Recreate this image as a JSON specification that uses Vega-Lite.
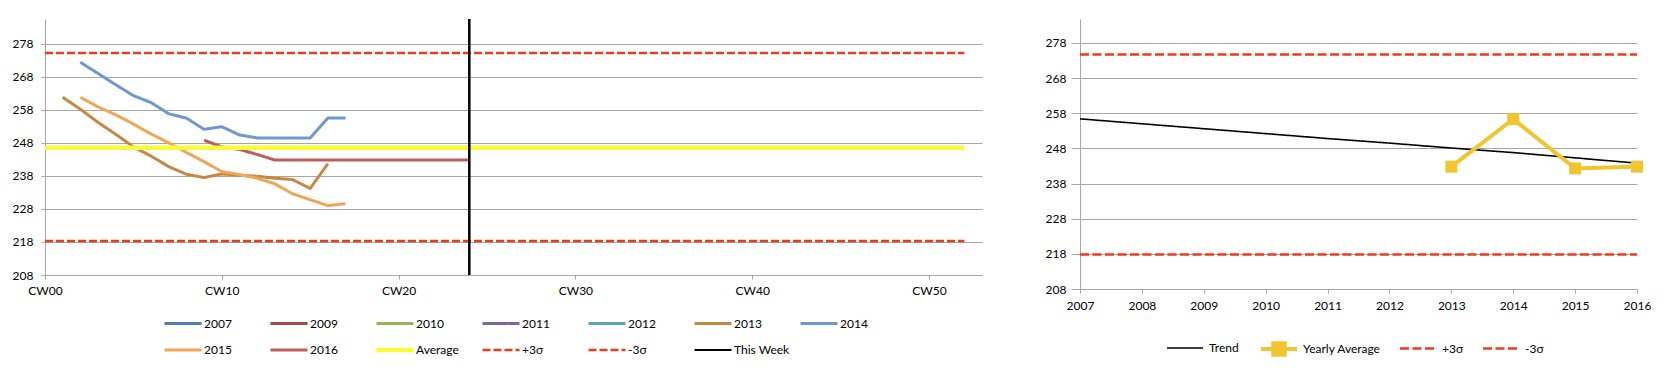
{
  "$schema": "https://vega.github.io/schema/vega-lite/v6.json",
  "background": "white",
  "padding": {"left": 12, "top": 17, "right": 0, "bottom": 0},
  "spacing": 63,
  "config": {
    "view": {"stroke": null},
    "font": "Lato",
    "axis": {"labelFont": "Lato", "labelFontSize": 12, "labelColor": "#000000", "gridColor": "#A6A6A6", "domainColor": "#A6A6A6", "tickColor": "#A6A6A6", "labelFlush": false},
    "legend": {"labelFont": "Lato", "labelFontSize": 12, "labelColor": "#000000", "symbolType": "stroke", "padding": 0}
  },
  "resolve": {
    "scale": {"x": "independent", "y": "independent", "color": "independent", "strokeDash": "independent", "strokeWidth": "independent"},
    "legend": {"color": "independent", "strokeDash": "independent", "strokeWidth": "independent"}
  },
  "datasets": {
    "weekly": [
      {"series": "2014", "week": 2, "value": 272.4},
      {"series": "2014", "week": 3, "value": 269.0},
      {"series": "2014", "week": 4, "value": 265.6},
      {"series": "2014", "week": 5, "value": 262.3},
      {"series": "2014", "week": 6, "value": 260.2},
      {"series": "2014", "week": 7, "value": 256.8},
      {"series": "2014", "week": 8, "value": 255.5},
      {"series": "2014", "week": 9, "value": 252.1},
      {"series": "2014", "week": 10, "value": 252.9},
      {"series": "2014", "week": 11, "value": 250.4},
      {"series": "2014", "week": 12, "value": 249.5},
      {"series": "2014", "week": 13, "value": 249.5},
      {"series": "2014", "week": 14, "value": 249.5},
      {"series": "2014", "week": 15, "value": 249.5},
      {"series": "2014", "week": 16, "value": 255.5},
      {"series": "2014", "week": 17, "value": 255.5},
      {"series": "2013", "week": 1, "value": 261.8},
      {"series": "2013", "week": 2, "value": 258.2},
      {"series": "2013", "week": 3, "value": 254.2},
      {"series": "2013", "week": 4, "value": 250.6},
      {"series": "2013", "week": 5, "value": 246.8},
      {"series": "2013", "week": 6, "value": 244.0},
      {"series": "2013", "week": 7, "value": 240.8},
      {"series": "2013", "week": 8, "value": 238.5},
      {"series": "2013", "week": 9, "value": 237.5},
      {"series": "2013", "week": 10, "value": 238.6},
      {"series": "2013", "week": 11, "value": 238.2},
      {"series": "2013", "week": 12, "value": 237.9},
      {"series": "2013", "week": 13, "value": 237.3},
      {"series": "2013", "week": 14, "value": 236.9},
      {"series": "2013", "week": 15, "value": 234.2},
      {"series": "2013", "week": 16, "value": 241.7},
      {"series": "2015", "week": 2, "value": 261.8},
      {"series": "2015", "week": 3, "value": 258.9},
      {"series": "2015", "week": 4, "value": 256.5},
      {"series": "2015", "week": 5, "value": 253.7},
      {"series": "2015", "week": 6, "value": 250.7},
      {"series": "2015", "week": 7, "value": 248.0},
      {"series": "2015", "week": 8, "value": 245.1},
      {"series": "2015", "week": 9, "value": 242.3},
      {"series": "2015", "week": 10, "value": 239.3},
      {"series": "2015", "week": 11, "value": 238.4},
      {"series": "2015", "week": 12, "value": 237.3},
      {"series": "2015", "week": 13, "value": 235.6},
      {"series": "2015", "week": 14, "value": 232.6},
      {"series": "2015", "week": 15, "value": 230.8},
      {"series": "2015", "week": 16, "value": 229.0},
      {"series": "2015", "week": 17, "value": 229.6},
      {"series": "2016", "week": 9, "value": 248.8},
      {"series": "2016", "week": 10, "value": 246.8},
      {"series": "2016", "week": 11, "value": 246.0},
      {"series": "2016", "week": 12, "value": 244.5},
      {"series": "2016", "week": 13, "value": 242.8},
      {"series": "2016", "week": 14, "value": 242.8},
      {"series": "2016", "week": 15, "value": 242.8},
      {"series": "2016", "week": 16, "value": 242.8},
      {"series": "2016", "week": 17, "value": 242.8},
      {"series": "2016", "week": 18, "value": 242.8},
      {"series": "2016", "week": 19, "value": 242.8},
      {"series": "2016", "week": 20, "value": 242.8},
      {"series": "2016", "week": 21, "value": 242.8},
      {"series": "2016", "week": 22, "value": 242.8},
      {"series": "2016", "week": 23, "value": 242.8},
      {"series": "2016", "week": 24, "value": 242.8},
      {"series": "Average", "week": 0, "value": 246.5},
      {"series": "Average", "week": 52, "value": 246.5},
      {"series": "+3σ", "week": 0, "value": 275.2},
      {"series": "+3σ", "week": 52, "value": 275.2},
      {"series": "-3σ", "week": 0, "value": 218.3},
      {"series": "-3σ", "week": 52, "value": 218.3}
    ],
    "thisweek": [
      {"series": "This Week", "week": 24}
    ],
    "yearly": [
      {"series": "Trend", "year": 2007, "value": 256.4},
      {"series": "Trend", "year": 2008, "value": 255.0},
      {"series": "Trend", "year": 2009, "value": 253.6},
      {"series": "Trend", "year": 2010, "value": 252.2},
      {"series": "Trend", "year": 2011, "value": 250.8},
      {"series": "Trend", "year": 2012, "value": 249.5},
      {"series": "Trend", "year": 2013, "value": 248.1},
      {"series": "Trend", "year": 2014, "value": 246.8},
      {"series": "Trend", "year": 2015, "value": 245.3},
      {"series": "Trend", "year": 2016, "value": 243.8},
      {"series": "Yearly Average", "year": 2013, "value": 242.8},
      {"series": "Yearly Average", "year": 2014, "value": 256.3},
      {"series": "Yearly Average", "year": 2015, "value": 242.3},
      {"series": "Yearly Average", "year": 2016, "value": 242.8},
      {"series": "+3σ", "year": 2007, "value": 274.7},
      {"series": "+3σ", "year": 2016, "value": 274.7},
      {"series": "-3σ", "year": 2007, "value": 217.8},
      {"series": "-3σ", "year": 2016, "value": 217.8}
    ]
  },
  "hconcat": [
    {
      "width": 937,
      "height": 256,
      "layer": [
        {
          "data": {"name": "weekly"},
          "mark": {"type": "line", "strokeCap": "butt", "strokeJoin": "round"},
          "encoding": {
            "x": {"field": "week", "type": "quantitative", "title": null,
              "scale": {"domain": [0, 53], "nice": false, "zero": false},
              "axis": {"values": [0, 10, 20, 30, 40, 50], "tickCount": 6, "labelExpr": "'CW' + (datum.value < 10 ? '0' : '') + datum.value", "grid": false, "tickSize": 4, "labelPadding": 6}},
            "y": {"field": "value", "type": "quantitative", "title": null,
              "scale": {"domain": [208, 285.5], "nice": false, "zero": false},
              "axis": {"values": [208, 218, 228, 238, 248, 258, 268, 278], "tickCount": 8, "grid": true, "tickSize": 4, "labelPadding": 8}},
            "color": {"field": "series", "type": "nominal",
              "scale": {
                "domain": ["2007", "2009", "2010", "2011", "2012", "2013", "2014", "2015", "2016", "Average", "+3σ", "-3σ", "This Week"],
                "range": ["#4F7EBA", "#A04B48", "#98B35A", "#7C66A0", "#5CA3B8", "#C68943", "#7098D0", "#F0A656", "#BD5F58", "#FAFA3C", "#EE3B1C", "#EE3B1C", "#000000"]},
              "legend": {"title": null, "orient": "none", "legendX": 132, "legendY": 297, "direction": "horizontal", "columns": 7, "gridAlign": "all", "columnPadding": 1, "rowPadding": 10, "symbolSize": 1369, "labelOffset": 15,
                "encode": {"symbols": {"update": {
                  "strokeWidth": {"signal": "datum.value === 'Average' ? 4.5 : (datum.value === 'This Week' ? 2 : ((datum.value === '+3σ' || datum.value === '-3σ') ? 2.5 : 3))"}
                }}}}},
            "strokeDash": {"field": "series", "type": "nominal",
              "scale": {
                "domain": ["2007", "2009", "2010", "2011", "2012", "2013", "2014", "2015", "2016", "Average", "+3σ", "-3σ", "This Week"],
                "range": [[1, 0], [1, 0], [1, 0], [1, 0], [1, 0], [1, 0], [1, 0], [1, 0], [1, 0], [1, 0], [8, 3], [8, 3], [1, 0]]}},
            "strokeWidth": {"field": "series", "type": "nominal", "legend": null,
              "scale": {"type": "ordinal",
                "domain": ["2007", "2009", "2010", "2011", "2012", "2013", "2014", "2015", "2016", "Average", "+3σ", "-3σ", "This Week"],
                "range": [3, 3, 3, 3, 3, 3, 3, 3, 3, 4.5, 2.5, 2.5, 2]}}
          }
        },
        {
          "data": {"name": "thisweek"},
          "mark": {"type": "rule"},
          "encoding": {
            "x": {"field": "week", "type": "quantitative"},
            "color": {"field": "series", "type": "nominal"},
            "strokeDash": {"field": "series", "type": "nominal"},
            "strokeWidth": {"field": "series", "type": "nominal", "legend": null}
          }
        }
      ]
    },
    {
      "width": 557,
      "height": 270,
      "data": {"name": "yearly"},
      "encoding": {
        "x": {"field": "year", "type": "quantitative", "title": null,
          "scale": {"domain": [2007, 2016], "nice": false, "zero": false},
          "axis": {"values": [2007, 2008, 2009, 2010, 2011, 2012, 2013, 2014, 2015, 2016], "tickCount": 10, "format": "d", "grid": false, "tickSize": 4, "labelPadding": 7}},
        "y": {"field": "value", "type": "quantitative", "title": null,
          "scale": {"domain": [208, 284.8], "nice": false, "zero": false},
          "axis": {"values": [208, 218, 228, 238, 248, 258, 268, 278], "tickCount": 8, "grid": true, "tickSize": 9, "labelPadding": 5}}
      },
      "layer": [
        {
          "mark": {"type": "line", "strokeCap": "butt", "strokeJoin": "miter"},
          "encoding": {
            "color": {"field": "series", "type": "nominal",
              "scale": {"domain": ["Trend", "Yearly Average", "+3σ", "-3σ"], "range": ["#000000", "#F2C530", "#EE3B1C", "#EE3B1C"]},
              "legend": {"title": null, "orient": "none", "legendX": 85, "legendY": 310, "direction": "horizontal", "columns": 4, "gridAlign": "none", "columnPadding": 14, "symbolSize": 1296, "labelOffset": 4,
                "encode": {"symbols": {"update": {
                  "shape": {"signal": "datum.value === 'Yearly Average' ? 'M-1,0H1M-0.32,-0.32H0.32V0.32H-0.32Z' : 'stroke'"},
                  "fill": {"signal": "datum.value === 'Yearly Average' ? '#F2C530' : 'transparent'"},
                  "strokeWidth": {"signal": "datum.value === 'Yearly Average' ? 4 : (datum.value === 'Trend' ? 2 : 2.5)"}
                }}}}},
            "strokeDash": {"field": "series", "type": "nominal",
              "scale": {"domain": ["Trend", "Yearly Average", "+3σ", "-3σ"], "range": [[1, 0], [1, 0], [9, 3.5], [9, 3.5]]}},
            "strokeWidth": {"field": "series", "type": "nominal", "legend": null,
              "scale": {"type": "ordinal", "domain": ["Trend", "Yearly Average", "+3σ", "-3σ"], "range": [1.6, 4, 2.5, 2.5]}}
          }
        },
        {
          "transform": [{"filter": "datum.series === 'Yearly Average'"}],
          "mark": {"type": "point", "shape": "square", "filled": true, "size": 144, "color": "#F2C530", "opacity": 1}
        }
      ]
    }
  ]
}
